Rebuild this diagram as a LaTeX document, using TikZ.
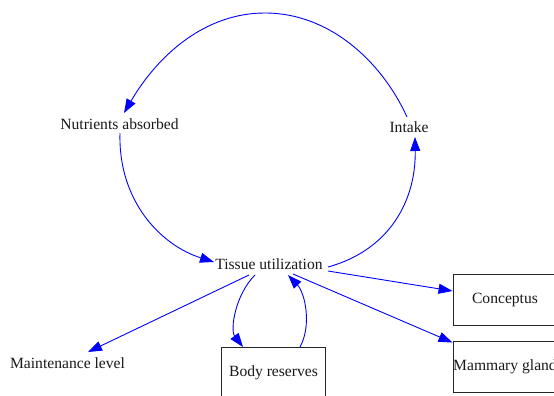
\documentclass[tikz,border=0pt]{standalone}
\usepackage{fontspec}
\setmainfont{Liberation Serif}
\usetikzlibrary{arrows.meta}
\begin{document}
\begin{tikzpicture}[x=1pt,y=1pt,
  every node/.style={font=\fontsize{15.6}{18}\selectfont, text=black!90},
  plain/.style={inner sep=2pt},
  boxnode/.style={draw=black!85, line width=0.9pt, minimum width=104pt, minimum height=51pt, inner sep=0pt},
  edge/.style={draw=blue, line width=0.9pt, -{Triangle[length=14pt,width=10pt]}}]
\useasboundingbox (0,0) rectangle (554,-396);
\fill[white] (0,0) rectangle (554,-396);
\node[plain] (nutr) at (119.5,-124) {Nutrients absorbed};
\node[plain] (intake) at (409,-127) {Intake};
\node[plain] (tissue) at (269,-264) {Tissue utilization};
\node[plain] (maint) at (67.5,-363) {Maintenance level};
\node[boxnode] (body) at (273.5,-373) {Body reserves};
\node[boxnode] (conc) at (505,-299.5) {Conceptus};
\node[boxnode] (mam) at (505,-366.5) {Mammary gland};
% loop
\draw[edge] ([shift={(-2,10)}]intake.center) .. controls (382,-62) and (330,-13) .. (265,-13)
   .. controls (205,-13) and (158,-55) .. ([shift={(4.5,11)}]nutr.center);
\draw[edge] ([shift={(0.5,-9)}]nutr.center) .. controls (118,-200) and (160,-245) .. ([shift={(-55,2)}]tissue.center);
\draw[edge] ([shift={(59,-3)}]tissue.center) .. controls (390,-250) and (416,-200) .. ([shift={(6,-10)}]intake.center);
% outgoing
\draw[edge] ([shift={(-20,-11)}]tissue.center) -- ([shift={(20.5,11)}]maint.center);
\draw[edge] ([shift={(59,-7)}]tissue.center) -- ([yshift=8.5]conc.west);
\draw[edge] ([shift={(24,-10)}]tissue.center) -- ([yshift=-2]mam.north west);
\draw[edge] ([shift={(-14,-11)}]tissue.center) .. controls (235,-295) and (230,-330) .. ([xshift=-30.5]body.north);
\draw[edge] ([xshift=26.5]body.north) .. controls (312,-325) and (305,-293) .. ([shift={(19,-11)}]tissue.center);
\end{tikzpicture}
\end{document}
